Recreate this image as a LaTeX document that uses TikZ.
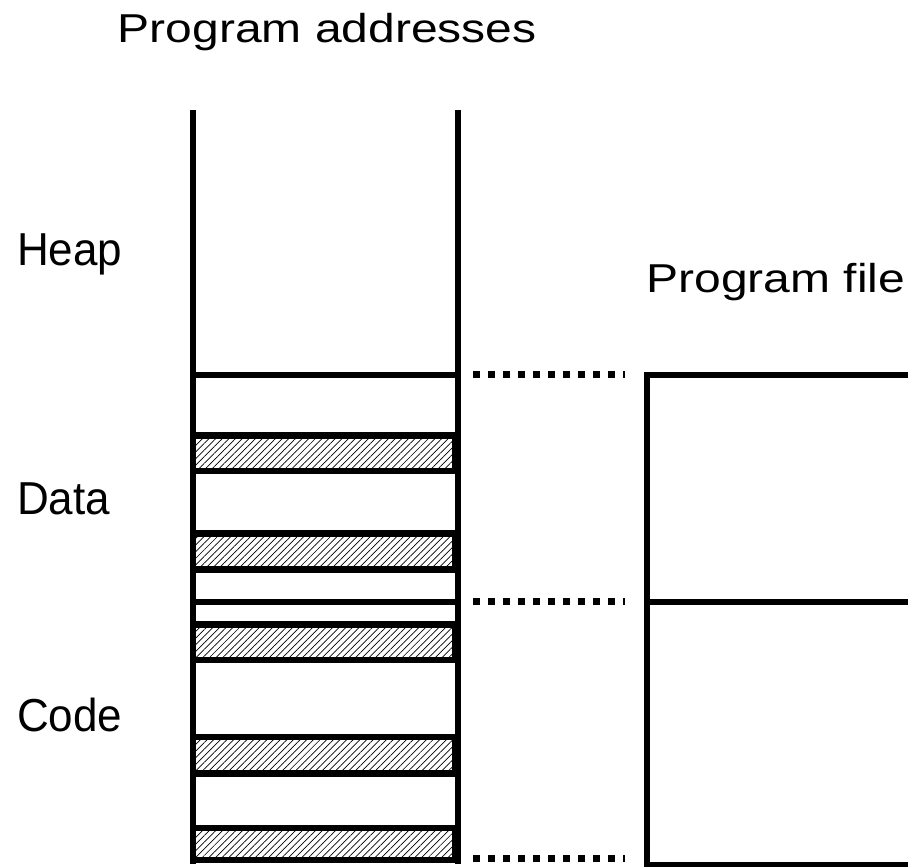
\documentclass[tikz,border=0pt]{standalone}
\usepackage{fontspec}
\setmainfont{Liberation Sans}
\usetikzlibrary{patterns.meta}

\tikzset{
  wall/.style={line width=6.7pt, line cap=butt},
  hatchbar/.style={line width=6.7pt, line join=round,
    pattern={Lines[angle=45, distance=4.7pt, line width=0.7pt]}},
  guide/.style={line width=7pt, dash pattern=on 7.3pt off 7.7pt},
  title/.style={anchor=base west, inner sep=0pt, font=\fontsize{48}{48}\selectfont},
  region/.style={anchor=base west, inner sep=0pt, font=\fontsize{44}{44}\selectfont},
}
\newcommand{\squat}[1]{\scalebox{1}[0.84]{#1}}
\newcommand{\tallish}[1]{\scalebox{1}[1.05]{#1}}

\begin{document}
\begin{tikzpicture}[x=1pt, y=-1pt]
  \useasboundingbox (0,0) rectangle (908,867);
  \clip (0,0) rectangle (908,867);

  % labels
  \node[title]  (addr) at (117.5,42.5) {\squat{Program addresses}};
  \node[title]  (file) at (646.2,292.3) {\squat{Program file}};
  \node[region] (heap) at (17,265) {\tallish{Heap}};
  \node[region] (data) at (17,514) {\tallish{Data}};
  \node[region] (code) at (17,731) {\tallish{Code}};

  % address space column
  \coordinate (colTL) at (193,110);
  \coordinate (colBL) at (193,863.5);
  \coordinate (colTR) at (458,110);
  \coordinate (colBR) at (458,863.5);
  \draw[wall] (colTL) -- (colBL);
  \draw[wall] (colTR) -- (colBR);

  % segment boundaries
  \coordinate (heapEndL) at (193,375);
  \coordinate (heapEndR) at (458,375);
  \coordinate (dataEndL) at (193,602);
  \coordinate (dataEndR) at (458,602);
  \draw[wall] (heapEndL) -- (heapEndR);
  \draw[wall] (dataEndL) -- (dataEndR);

  % unused gaps between mapped pieces
  \draw[hatchbar] (193,435.5) rectangle (455,471);
  \draw[hatchbar] (193,533.5) rectangle (455,569.5);
  \draw[hatchbar] (193,624.5) rectangle (455,660);
  \draw[hatchbar] (193,737)   rectangle (455,773.5);
  \draw[hatchbar] (193,828)   rectangle (455,860);

  % program file
  \coordinate (fileTop)  at (647,375);
  \coordinate (fileMid)  at (647,602);
  \coordinate (fileBot)  at (647,865);
  \draw[wall, line join=miter] (920,375) -- (fileTop) -- (647,875);
  \draw[wall] (fileMid) -- (920,602);
  \draw[wall] (fileBot) -- (920,865);

  % correspondence guides
  \coordinate (g1a) at (473,374.5);
  \coordinate (g1b) at (625,374.5);
  \coordinate (g2a) at (473,601.5);
  \coordinate (g2b) at (625,601.5);
  \coordinate (g3a) at (473,858.5);
  \coordinate (g3b) at (625,858.5);
  \draw[guide] (g1a) -- (g1b);
  \draw[guide] (g2a) -- (g2b);
  \draw[guide] (g3a) -- (g3b);
\end{tikzpicture}
\end{document}
